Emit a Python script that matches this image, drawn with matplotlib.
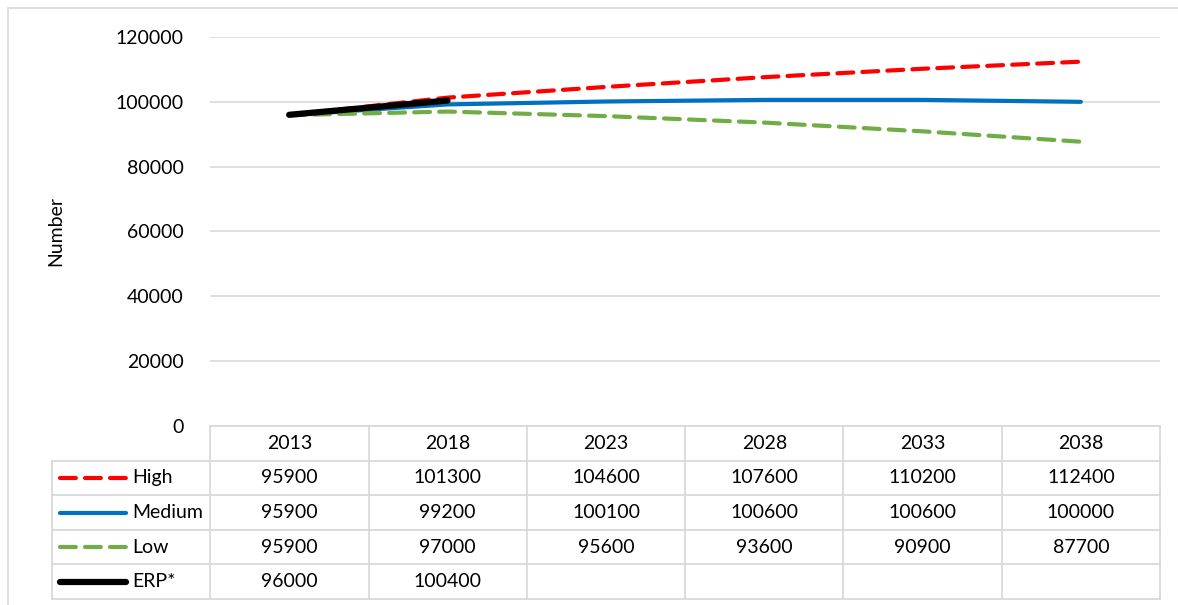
import matplotlib.pyplot as plt
from matplotlib.lines import Line2D
from matplotlib.patches import Rectangle

plt.rcParams['font.family'] = ['Lato', 'DejaVu Sans']

years = ['2013', '2018', '2023', '2028', '2033', '2038']
high = [95900, 101300, 104600, 107600, 110200, 112400]
medium = [95900, 99200, 100100, 100600, 100600, 100000]
low = [95900, 97000, 95600, 93600, 90900, 87700]
erp = [96000, 100400]

series_names = ['High', 'Medium', 'Low', 'ERP*']
series_values = [high, medium, low, erp]
colors = ['#ff0000', '#0070c0', '#70ad47', '#000000']
styles = [(0, (3.8, 2.2)), '-', (0, (3.8, 2.2)), '-']
widths = [3, 3, 3, 4.5]

FS = 14
W, H = 1178, 605
fig = plt.figure(figsize=(W / 100, H / 100), dpi=100)

# chart area border
fig.patches.append(Rectangle((8 / W, -0.1), 1.2, (H - 8) / H + 0.1,
                             transform=fig.transFigure, fill=False,
                             edgecolor='#d9d9d9', linewidth=1.2))

# plot area
ax = fig.add_axes([210 / W, (H - 426) / H, 950 / W, 389 / H])
for vals, c, ls, lw in zip(series_values, colors, styles, widths):
    ax.plot(range(len(vals)), vals, color=c, linestyle=ls, linewidth=lw,
            solid_capstyle='round', dash_capstyle='round', zorder=3)

ax.set_xlim(-0.5, len(years) - 0.5)
ax.set_ylim(0, 120000)
ax.set_yticks(range(0, 120001, 20000))
ax.yaxis.grid(True, color='#d9d9d9', linewidth=1.2)
ax.set_axisbelow(True)
ax.tick_params(axis='y', length=0, pad=19, labelsize=FS)
ax.set_xticks([])
for s in ax.spines.values():
    s.set_visible(False)
ax.set_ylabel('Number', fontsize=FS)
ax.yaxis.set_label_coords(-146 / 950, 0.5)

# data table below the plot
tx = fig.add_axes([52 / W, (H - 599) / H, 1108 / W, 173 / H])
tx.set_xlim(-1, len(years))
tx.set_ylim(0, 5)
tx.axis('off')
grid_kw = dict(color='#d9d9d9', linewidth=1.3, clip_on=False)

# horizontal lines
tx.plot([0, len(years)], [5, 5], **grid_kw)
for yy in range(0, 5):
    tx.plot([-1, len(years)], [yy, yy], **grid_kw)
# vertical lines
tx.plot([-1, -1], [0, 4], **grid_kw)
for xx in range(0, len(years) + 1):
    tx.plot([xx, xx], [0, 5], **grid_kw)

for i, yr in enumerate(years):
    tx.text(i + 0.5, 4.5, yr, ha='center', va='center', fontsize=FS)

for r, (name, vals, c, ls, lw) in enumerate(zip(series_names, series_values,
                                                 colors, styles, widths)):
    yc = 3.5 - r
    tx.add_line(Line2D([-0.95, -0.53], [yc, yc], color=c, linestyle=ls,
                       linewidth=lw, solid_capstyle='round',
                       dash_capstyle='round'))
    tx.text(-0.49, yc, name, ha='left', va='center', fontsize=FS)
    for i, v in enumerate(vals):
        tx.text(i + 0.5, yc, str(v), ha='center', va='center', fontsize=FS)

plt.savefig('out.png', dpi=100)
